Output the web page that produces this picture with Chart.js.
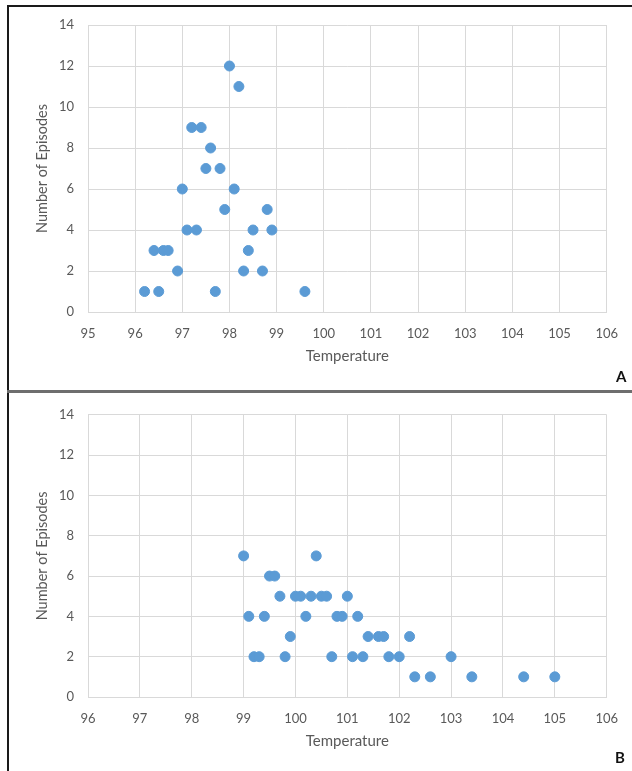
<!DOCTYPE html>
<html>
<head>
<meta charset="utf-8">
<script src="https://cdn.jsdelivr.net/npm/chart.js@4.4.1/dist/chart.umd.min.js"></script>
<style>
  body { margin: 0; background: #fff; }
  #page { position: relative; width: 632px; height: 771px; overflow: hidden; background: #fff; }
  canvas { position: absolute; left: 0; }
  #chartA { top: 0; }
  #chartB { top: 393px; }
  .rule { position: absolute; }
  .tag { position: absolute; font: bold 15px Lato, sans-serif; color: #111; }
</style>
</head>
<body>
<div id="page">
  <canvas id="chartA" width="632" height="390"></canvas>
  <canvas id="chartB" width="632" height="378"></canvas>
  <div class="rule" style="left:7px;top:5px;width:625px;height:2px;background:#1a1a1a"></div>
  <div class="rule" style="left:7px;top:5px;width:2px;height:766px;background:#1a1a1a"></div>
  <div class="rule" style="left:7px;top:390px;width:625px;height:3px;background:#6e6e6e"></div>
  <div class="tag" style="left:616px;top:367px">A</div>
  <div class="tag" style="left:615px;top:748px">B</div>
</div>
<script>
// Panel A: temperature readings and number of episodes
const tempA = [96.2, 96.5, 96.4, 96.6, 96.7, 96.9, 97.0, 97.1, 97.2, 97.3, 97.4, 97.5, 97.6,
               97.7, 97.8, 97.9, 98.0, 98.1, 98.2, 98.3, 98.4, 98.5, 98.7, 98.8, 98.9, 99.6];
const countA = [1, 1, 3, 3, 3, 2, 6, 4, 9, 4, 9, 7, 8,
                1, 7, 5, 12, 6, 11, 2, 3, 4, 2, 5, 4, 1];

// Panel B
const tempB = [99.0, 99.1, 99.2, 99.3, 99.4, 99.5, 99.6, 99.7, 99.8, 99.9, 100.0, 100.1,
               100.2, 100.3, 100.4, 100.5, 100.6, 100.7, 100.8, 100.9, 101.0, 101.1, 101.2,
               101.3, 101.4, 101.6, 101.7, 101.8, 102.0, 102.2, 102.3, 102.6, 103.0, 103.4,
               104.4, 105.0];
const countB = [7, 4, 2, 2, 4, 6, 6, 5, 2, 3, 5, 5,
                4, 5, 7, 5, 5, 2, 4, 4, 5, 2, 4,
                2, 3, 3, 3, 2, 2, 3, 1, 1, 2, 1,
                1, 1];

// axis ranges
const xRangeA = [95, 106];
const xRangeB = [96, 106];
const yRange = [0, 14];
const yStep = 2;

const gridColor = '#d9d9d9';
const textColor = '#595959';
const dotColor = '#5b9bd5';

function makeChart(id, temps, counts, xRange, padTop, padBottom) {
    const points = temps.map((t, i) => ({ x: t, y: counts[i] }));
    return new Chart(document.getElementById(id), {
        type: 'scatter',
        data: {
            datasets: [{
                data: points,
                backgroundColor: dotColor,
                borderColor: dotColor,
                pointRadius: 5,
                pointHoverRadius: 5
            }]
        },
        options: {
            responsive: false,
            animation: false,
            layout: { padding: { top: padTop, bottom: padBottom, left: 0, right: 20 } },
            plugins: { legend: { display: false }, tooltip: { enabled: false } },
            scales: {
                x: {
                    type: 'linear',
                    min: xRange[0],
                    max: xRange[1],
                    ticks: { stepSize: 1, padding: 14, color: textColor, font: { family: 'Lato', size: 13 } },
                    grid: { color: gridColor, drawTicks: false },
                    border: { color: gridColor },
                    title: {
                        display: true,
                        text: 'Temperature',
                        color: textColor,
                        font: { family: 'Lato', size: 15 },
                        padding: { top: 0, bottom: 0 }
                    },
                    afterFit: function(scale) { scale.height = 53; }
                },
                y: {
                    min: yRange[0],
                    max: yRange[1],
                    ticks: { stepSize: yStep, padding: 14, color: textColor, font: { family: 'Lato', size: 13 } },
                    grid: { color: gridColor, drawTicks: false },
                    border: { color: gridColor },
                    title: {
                        display: true,
                        text: 'Number of Episodes',
                        color: textColor,
                        font: { family: 'Lato', size: 14.5 },
                        padding: { top: 34, bottom: 0 }
                    },
                    afterFit: function(scale) { scale.width = 88; }
                }
            }
        }
    });
}

makeChart('chartA', tempA, countA, xRangeA, 25, 25);
makeChart('chartB', tempB, countB, xRangeB, 19, 21);
</script>
</body>
</html>
